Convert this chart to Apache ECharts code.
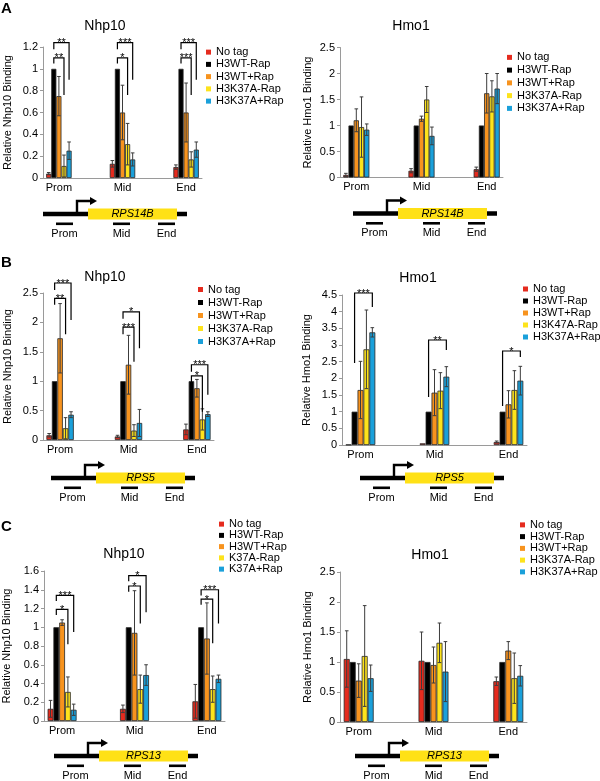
<!DOCTYPE html>
<html><head><meta charset="utf-8">
<script src="https://cdn.jsdelivr.net/npm/echarts@6/dist/echarts.min.js"></script>
<style>html,body{margin:0;padding:0;background:#fff}#c{width:600px;height:781px}</style>
</head><body><div id="c"></div>
<script>
// ---------- categories / labels ----------
const axisCats = ['Prom', '', 'Mid', '', 'End'];
const siteIdx = [0, 2, 4];
const colors = ['#e52b1e', '#000000', '#f7931e', '#fde31c', '#1aa0da'];
const legStd = ['No tag', 'H3WT-Rap', 'H3WT+Rap', 'H3K37A-Rap', 'H3K37A+Rap'];
const legB2 = ['No tag', 'H3WT-Rap', 'H3WT+Rap', 'H3K47A-Rap', 'H3K37A+Rap'];
const legC1 = ['No tag', 'H3WT-Rap', 'H3WT+Rap', 'K37A-Rap', 'K37A+Rap'];
const FONT = "'Liberation Sans', Arial, sans-serif";
const BAR_FRAC = 0.16;

// ---------- data: rows = series (No tag, H3WT-Rap, H3WT+Rap, K37A-Rap, K37A+Rap), cols = Prom, Mid, End ----------
// Panel A, Nhp10
const aNhp10Mean = [[0.04,0.13,0.10],[1,1,1],[0.75,0.60,0.60],[0.11,0.31,0.17],[0.25,0.17,0.26]];
const aNhp10Err  = [[0.01,0.03,0.02],[0,0,0],[0.18,0.25,0.27],[0.10,0.19,0.07],[0.08,0.06,0.07]];
// significance: [site, fromBar, toBar, top, leftBottom, rightBottom, label]
const aNhp10Sig = [[0,1,4,1.24,1.18,0.90,'**'],[0,1,3,1.10,1.05,0.76,'**'],
                   [1,1,4,1.24,1.18,0.90,'***'],[1,1,3,1.10,1.05,0.76,'*'],
                   [2,1,4,1.24,1.18,0.90,'***'],[2,1,3,1.10,1.05,0.76,'***']];
// Panel A, Hmo1
const aHmo1Mean = [[0.05,0.13,0.16],[1,1,1],[1.10,1.13,1.62],[0.97,1.50,1.56],[0.92,0.80,1.71]];
const aHmo1Err  = [[0.03,0.04,0.04],[0,0,0],[0.22,0.05,0.38],[0.58,0.25,0.30],[0.11,0.17,0.29]];
const aHmo1Sig = [];
// Panel B, Nhp10
const bNhp10Mean = [[0.08,0.06,0.18],[1,1,1],[1.73,1.28,0.88],[0.20,0.16,0.35],[0.43,0.29,0.44]];
const bNhp10Err  = [[0.03,0.02,0.09],[0,0,0],[0.59,0.50,0.15],[0.18,0.10,0.18],[0.05,0.23,0.04]];
const bNhp10Sig = [[0,1,4,2.67,2.55,2.04,'***'],[0,1,3,2.41,2.30,1.80,'**'],
                   [1,1,4,2.18,2.06,1.56,'*'],[1,1,3,1.92,1.80,1.33,'***'],
                   [2,1,4,1.28,1.16,0.77,'***'],[2,1,3,1.09,0.98,0.48,'*']];
// Panel B, Hmo1
const bHmo1Mean = [[0.01,0.05,0.09],[1,1,1],[1.65,1.57,1.22],[2.87,1.63,1.65],[3.38,2.05,1.93]];
const bHmo1Err  = [[0,0,0.03],[0,0,0],[0.86,0.69,0.41],[1.18,0.54,0.58],[0.14,0.30,0.43]];
const bHmo1Sig = [[0,1,4,4.56,2.46,4.14,'***'],[1,1,4,3.15,1.44,2.85,'**'],[2,1,4,2.82,1.17,2.64,'*']];
// Panel C, Nhp10
const cNhp10Mean = [[0.13,0.13,0.21],[1,1,1],[1.05,0.94,0.88],[0.31,0.34,0.34],[0.12,0.49,0.45]];
const cNhp10Err  = [[0.09,0.04,0.18],[0,0,0],[0.03,0.45,0.38],[0.16,0.15,0.14],[0.06,0.11,0.04]];
const cNhp10Sig = [[0,1,4,1.34,1.28,0.95,'***'],[0,1,3,1.19,1.13,0.82,'*'],
                   [1,1,4,1.55,1.49,1.16,'*'],[1,1,3,1.44,1.38,1.04,'*'],
                   [2,1,4,1.40,1.34,1.04,'***'],[2,1,3,1.30,1.24,0.83,'*']];
// Panel C, Hmo1
const cHmo1Mean = [[1.05,1.02,0.68],[1,1,1],[0.69,0.95,1.19],[1.10,1.32,0.73],[0.73,0.84,0.77]];
const cHmo1Err  = [[0.47,0.48,0.07],[0,0,0],[0.28,0.30,0.15],[0.84,0.33,0.42],[0.22,0.50,0.17]];
const cHmo1Sig = [];

// ---------- layout ----------
const panels = [
  {mean:aNhp10Mean, err:aNhp10Err, sig:aNhp10Sig, names:legStd, max:1.2, interval:0.2, yName:'Relative Nhp10 Binding', nameGap:30,
   grid:{left:43, top:47, width:159, height:131}, title:['Nhp10',105,26], legend:[206,46,12.25], gene:[43,214,'RPS14B']},
  {mean:aHmo1Mean, err:aHmo1Err, sig:aHmo1Sig, names:legStd, max:2.5, interval:0.5, yName:'Relative Hmo1 Binding', nameGap:27,
   grid:{left:340, top:47.5, width:163, height:130}, title:['Hmo1',411,26], legend:[507,51,12.75], gene:[353,213.5,'RPS14B']},
  {mean:bNhp10Mean, err:bNhp10Err, sig:bNhp10Sig, names:legStd, max:2.5, interval:0.5, yName:'Relative Nhp10 Binding', nameGap:30,
   grid:{left:43, top:293, width:171, height:147}, title:['Nhp10',105,277], legend:[198,283,13], gene:[51,478,'RPS5']},
  {mean:bHmo1Mean, err:bHmo1Err, sig:bHmo1Sig, names:legB2, max:4.5, interval:0.5, yName:'Relative Hmo1 Binding', nameGap:30,
   grid:{left:342, top:295, width:185, height:150}, title:['Hmo1',418,278], legend:[523,283,12], gene:[360,478,'RPS5']},
  {mean:cNhp10Mean, err:cNhp10Err, sig:cNhp10Sig, names:legC1, max:1.6, interval:0.2, yName:'Relative Nhp10 Binding', nameGap:32,
   grid:{left:43, top:571, width:182, height:150}, title:['Nhp10',124,554], legend:[219,518.5,11.25], gene:[54,756,'RPS13']},
  {mean:cHmo1Mean, err:cHmo1Err, sig:cHmo1Sig, names:legStd, max:2.5, interval:0.5, yName:'Relative Hmo1 Binding', nameGap:27,
   grid:{left:340, top:572, width:187, height:150}, title:['Hmo1',430,555], legend:[520,519,11.75], gene:[355,756,'RPS13']}
];

function expand(a) { return [a[0], null, a[1], null, a[2]]; }

function errRender(p) {
  return function (params, api) {
    const d = p.errData[params.dataIndex];
    const cat = d[0], k = d[1], m = d[2], e = d[3];
    const bw = api.size([1, 0])[0] * BAR_FRAC;
    const x = api.coord([cat, 0])[0] + (k - 2) * bw;
    const yt = api.coord([cat, m + e])[1];
    const yb = api.coord([cat, Math.max(m - e, 0)])[1];
    const st = {stroke:'#3c3c3c', lineWidth:1};
    return {type:'group', children:[
      {type:'line', shape:{x1:x, y1:yb, x2:x, y2:yt}, style:st},
      {type:'line', shape:{x1:x-1.8, y1:yt, x2:x+1.8, y2:yt}, style:st},
      {type:'line', shape:{x1:x-1.8, y1:yb, x2:x+1.8, y2:yb}, style:st}
    ]};
  };
}
function sigRender(p) {
  return function (params, api) {
    const b = p.sig[params.dataIndex];
    const cat = siteIdx[b[0]];
    const bw = api.size([1, 0])[0] * BAR_FRAC;
    const cx = api.coord([cat, 0])[0];
    const xl = cx + (b[1] - 2) * bw, xr = cx + (b[2] - 2) * bw;
    const yT = api.coord([cat, b[3]])[1], yL = api.coord([cat, b[4]])[1], yR = api.coord([cat, b[5]])[1];
    return {type:'group', children:[
      {type:'polyline', shape:{points:[[xl,yL],[xl,yT],[xr,yT],[xr,yR]]}, style:{stroke:'#000', lineWidth:1.2, fill:null}},
      {type:'text', style:{text:b[6], x:(xl+xr)/2, y:yT+0.5, align:'center', verticalAlign:'middle', fontSize:11, fontFamily:FONT, fill:'#000'}}
    ]};
  };
}

function geneDiagram(x0, y, name) {
  const els = [];
  els.push({type:'rect', shape:{x:x0, y:y-2.2, width:144, height:4.4}, style:{fill:'#000'}});
  els.push({type:'rect', shape:{x:x0+45, y:y-5.5, width:89, height:11}, style:{fill:'#ffe116'}});
  els.push({type:'text', style:{text:name, x:x0+89.5, y:y, align:'center', verticalAlign:'middle', fontSize:11, fontStyle:'italic', fontFamily:FONT, fill:'#000'}});
  els.push({type:'polyline', shape:{points:[[x0+34,y],[x0+34,y-13],[x0+48,y-13]]}, style:{stroke:'#000', lineWidth:2.4, fill:null}});
  els.push({type:'polygon', shape:{points:[[x0+47,y-17],[x0+54,y-13],[x0+47,y-9]]}, style:{fill:'#000'}});
  const segs = [['Prom',13],['Mid',70],['End',115]];
  segs.forEach(s => {
    els.push({type:'rect', shape:{x:x0+s[1], y:y+8.5, width:17, height:2.6}, style:{fill:'#000'}});
    els.push({type:'text', style:{text:s[0], x:x0+s[1]+8.5, y:y+19.5, align:'center', verticalAlign:'middle', fontSize:11, fontFamily:FONT, fill:'#000'}});
  });
  return els;
}

const grids = [], xAxes = [], yAxes = [], series = [], legends = [], graphics = [];
panels.forEach((p, i) => {
  grids.push(Object.assign({containLabel:false}, p.grid));
  xAxes.push({type:'category', gridIndex:i, data:axisCats,
    axisLine:{lineStyle:{color:'#9a9a9a', width:1}},
    axisTick:{interval:0, length:3, lineStyle:{color:'#9a9a9a'}},
    axisLabel:{interval:0, color:'#000', fontSize:11, fontFamily:FONT, margin:4}});
  yAxes.push({type:'value', gridIndex:i, min:0, max:p.max, interval:p.interval,
    splitLine:{show:false},
    axisLine:{show:true, lineStyle:{color:'#9a9a9a', width:1}},
    axisTick:{show:true, length:3, lineStyle:{color:'#9a9a9a'}},
    axisLabel:{color:'#000', fontSize:11, fontFamily:FONT, margin:5},
    name:p.yName, nameLocation:'middle', nameGap:p.nameGap, nameRotate:90,
    nameTextStyle:{color:'#000', fontSize:11, fontFamily:FONT}});
  for (let k = 0; k < 5; k++) {
    series.push({type:'bar', name:p.names[k], xAxisIndex:i, yAxisIndex:i, data:expand(p.mean[k]),
      barWidth:(BAR_FRAC*100)+'%', barGap:'0%',
      itemStyle:{color:colors[k], borderColor:'#262626', borderWidth:0.8}});
  }
  p.errData = [];
  for (let k = 0; k < 5; k++) for (let s = 0; s < 3; s++) {
    if (p.err[k][s] > 0) p.errData.push([siteIdx[s], k, p.mean[k][s], p.err[k][s]]);
  }
  series.push({type:'custom', name:'err'+i, xAxisIndex:i, yAxisIndex:i, z:5,
    data:p.errData.map(d => [d[0], d[2]]), renderItem:errRender(p)});
  if (p.sig.length) {
    series.push({type:'custom', name:'sig'+i, xAxisIndex:i, yAxisIndex:i, z:6, clip:false,
      data:p.sig.map(b => [siteIdx[b[0]], b[3]]), renderItem:sigRender(p)});
  }
  legends.push({data:p.names, orient:'vertical', left:p.legend[0], top:p.legend[1], padding:0,
    itemWidth:5, itemHeight:5, itemGap:0, icon:'rect', selectedMode:false,
    itemStyle:{borderWidth:0},
    textStyle:{color:'#000', fontSize:11, fontFamily:FONT, lineHeight:p.legend[2]}});
  graphics.push({type:'text', style:{text:p.title[0], x:p.title[1], y:p.title[2], align:'center', verticalAlign:'middle', fontSize:14, fontFamily:FONT, fill:'#000'}});
  geneDiagram(p.gene[0], p.gene[1], p.gene[2]).forEach(e => graphics.push(e));
});
[['A',1,9],['B',1,263],['C',1,527]].forEach(l => graphics.push({type:'text',
  style:{text:l[0], x:l[1], y:l[2], verticalAlign:'middle', fontSize:15, fontWeight:'bold', fontFamily:FONT, fill:'#000'}}));

const chart = echarts.init(document.getElementById('c'), null, {renderer:'canvas'});
chart.setOption({animation:false, grid:grids, xAxis:xAxes, yAxis:yAxes, series:series, legend:legends, graphic:graphics});
</script></body></html>
